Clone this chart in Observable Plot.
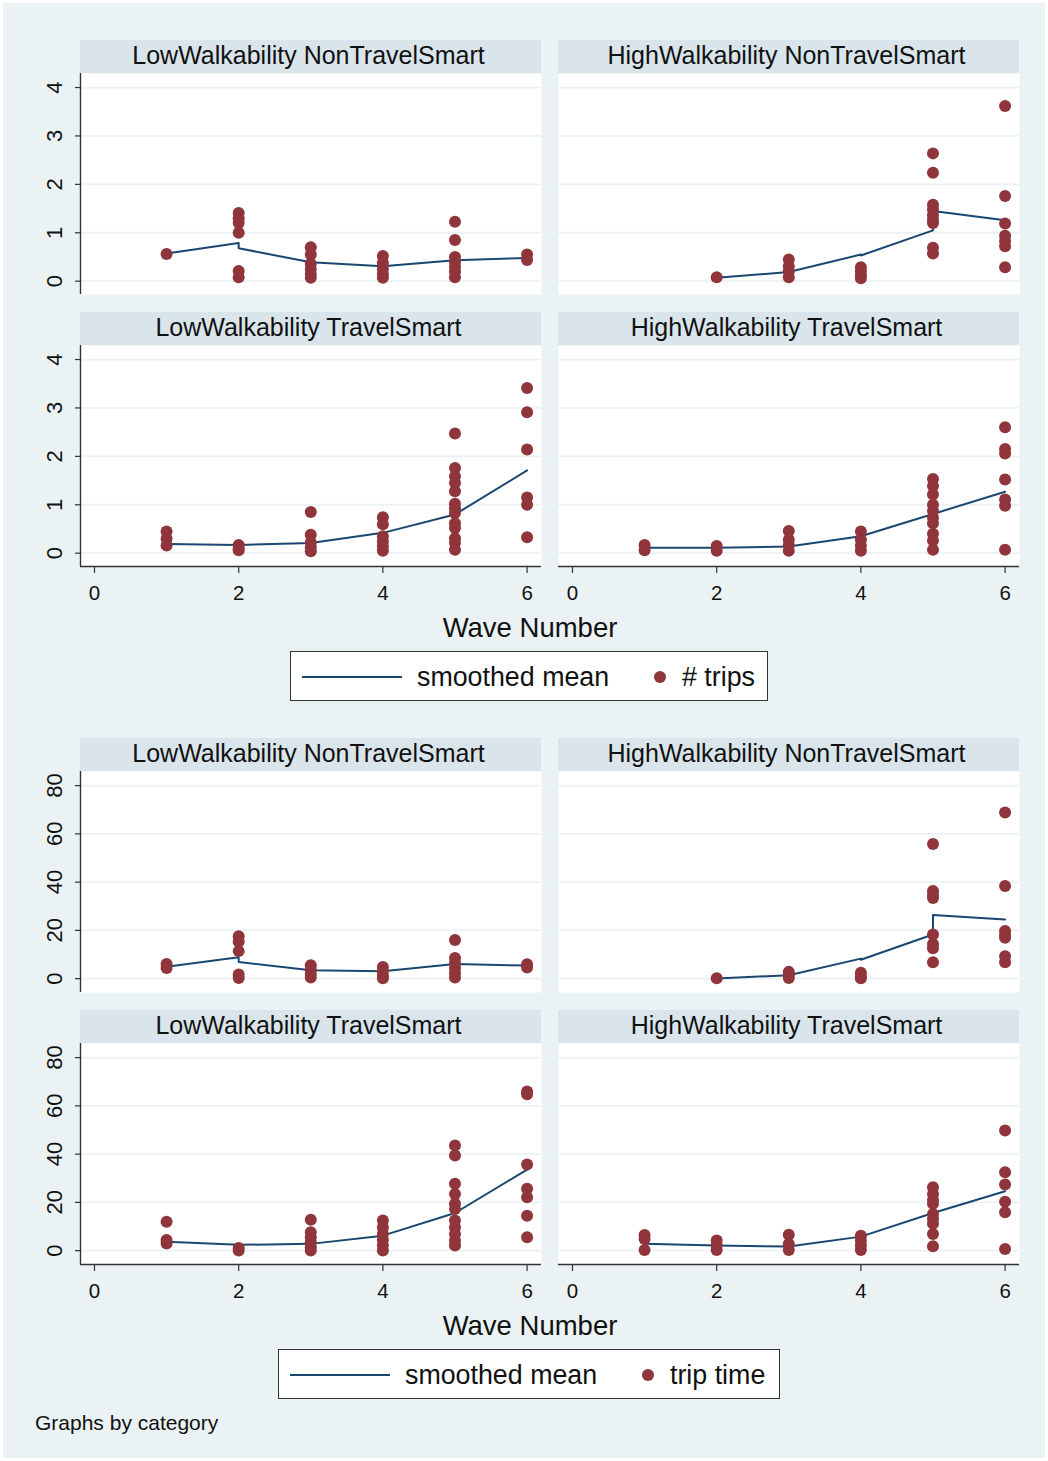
<!DOCTYPE html>
<html>
<head>
<meta charset="utf-8">
<script src="https://cdn.jsdelivr.net/npm/d3@7"></script>
<script src="https://cdn.jsdelivr.net/npm/@observablehq/plot@0.6"></script>
<style>
  body { margin: 0; background: #fff; }
  #page { position: relative; width: 1048px; height: 1461px; background: #fff; overflow: hidden;
          font-family: "Liberation Sans", Arial, Helvetica, sans-serif; color: #111; }
  #bg { position: absolute; left: 3px; top: 3px; right: 3px; bottom: 3px; background: #eaf2f3; }
  .strip { position: absolute; height: 33px; background: #d9e5eb; font-size: 25px; box-sizing: border-box;
           padding-bottom: 3px; padding-right: 4px;
           display: flex; align-items: center; justify-content: center; white-space: nowrap; }
  .xtitle { position: absolute; font-size: 27.5px; line-height: 27px; white-space: nowrap; transform: translateX(-50%); }
  .legend { position: absolute; background: #fff; border: 1px solid #333; box-sizing: border-box; }
  .legend span { position: absolute; font-size: 26.8px; line-height: 26px; white-space: nowrap; }
  .legend svg { position: absolute; left: 0; top: 0; }
  .note { position: absolute; font-size: 21px; line-height: 21px; white-space: nowrap; }
  .panel { position: absolute; }
</style>
</head>
<body>
<div id="page"><div id="bg"></div></div>
<script>
// ---------------- DATA ----------------
const panelTitles = ["LowWalkability NonTravelSmart", "HighWalkability NonTravelSmart",
                     "LowWalkability TravelSmart", "HighWalkability TravelSmart"];
const xTicks = [0, 2, 4, 6];
const tripsTicks = [0, 1, 2, 3, 4];
const timeTicks = [0, 20, 40, 60, 80];
const xTitle = "Wave Number";
const legendLine = "smoothed mean";
const legendTrips = "# trips";
const legendTime = "trip time";
const noteText = "Graphs by category";

// # trips : [wave, value]
const tripsLowNon = [[1,0.56],
  [2,1.41],[2,1.3],[2,1.2],[2,1.0],[2,0.21],[2,0.08],
  [3,0.70],[3,0.55],[3,0.36],[3,0.25],[3,0.15],[3,0.07],
  [4,0.52],[4,0.38],[4,0.25],[4,0.15],[4,0.07],
  [5,1.23],[5,0.85],[5,0.5],[5,0.4],[5,0.3],[5,0.2],[5,0.08],
  [6,0.55],[6,0.44]];
const tripsLowNonMean = [[1,0.57],[2,0.79],[2,0.68],[3,0.39],[4,0.31],[5,0.43],[6,0.48]];

const tripsHighNon = [[2,0.08],
  [3,0.45],[3,0.31],[3,0.2],[3,0.08],
  [4,0.29],[4,0.2],[4,0.12],[4,0.06],
  [5,2.64],[5,2.24],[5,1.58],[5,1.48],[5,1.36],[5,1.27],[5,1.2],[5,0.69],[5,0.57],
  [6,3.62],[6,1.76],[6,1.19],[6,0.94],[6,0.83],[6,0.72],[6,0.29]];
const tripsHighNonMean = [[2,0.07],[3,0.19],[4,0.55],[4,0.53],[5,1.05],[5,1.45],[6,1.26]];

const tripsLowTS = [[1,0.45],[1,0.3],[1,0.16],
  [2,0.17],[2,0.1],[2,0.06],
  [3,0.85],[3,0.38],[3,0.22],[3,0.12],[3,0.04],
  [4,0.74],[4,0.6],[4,0.35],[4,0.24],[4,0.14],[4,0.05],
  [5,2.47],[5,1.76],[5,1.59],[5,1.45],[5,1.28],[5,1.02],[5,0.93],[5,0.83],[5,0.62],[5,0.52],[5,0.31],[5,0.21],[5,0.07],
  [6,3.41],[6,2.91],[6,2.14],[6,1.15],[6,1.0],[6,0.33]];
const tripsLowTSMean = [[1,0.19],[2,0.17],[3,0.21],[4,0.42],[5,0.8],[6,1.71]];

const tripsHighTS = [[1,0.17],[1,0.06],
  [2,0.15],[2,0.05],
  [3,0.46],[3,0.28],[3,0.17],[3,0.05],
  [4,0.45],[4,0.28],[4,0.16],[4,0.05],
  [5,1.53],[5,1.39],[5,1.21],[5,1.0],[5,0.87],[5,0.73],[5,0.62],[5,0.4],[5,0.26],[5,0.07],
  [6,2.6],[6,2.15],[6,2.06],[6,1.52],[6,1.11],[6,0.98],[6,0.07]];
const tripsHighTSMean = [[1,0.11],[2,0.11],[3,0.14],[4,0.35],[5,0.81],[6,1.27]];

// trip time : [wave, value]
const timeLowNon = [[1,6.1],[1,4.4],
  [2,17.6],[2,15.3],[2,11.4],[2,1.7],[2,0.3],
  [3,5.5],[3,3.7],[3,1.9],[3,0.5],
  [4,4.8],[4,3.1],[4,1.2],[4,0.2],
  [5,16],[5,8.6],[5,6.5],[5,4.4],[5,2.4],[5,0.5],
  [6,6.0],[6,4.6]];
const timeLowNonMean = [[1,4.9],[2,8.9],[2,6.9],[3,3.5],[4,3.1],[5,6.1],[6,5.4]];

const timeHighNon = [[2,0.2],
  [3,2.8],[3,1.4],[3,0.3],
  [4,2.4],[4,1.0],[4,0.2],
  [5,55.8],[5,36.3],[5,34.7],[5,33.4],[5,18.3],[5,14.4],[5,12.6],[5,6.8],
  [6,68.9],[6,38.4],[6,19.7],[6,18.1],[6,16.9],[6,9.3],[6,6.8]];
const timeHighNonMean = [[2,0.1],[3,1.4],[4,8.3],[4,7.8],[5,18.3],[5,26.4],[6,24.5]];

const timeLowTS = [[1,12.0],[1,4.4],[1,3.0],
  [2,1.1],[2,0.1],
  [3,12.8],[3,7.6],[3,5.5],[3,3.5],[3,1.4],[3,0.1],
  [4,12.5],[4,9.7],[4,6.9],[4,4.4],[4,2.1],[4,0.1],
  [5,43.6],[5,39.4],[5,27.7],[5,23.5],[5,19.4],[5,17.3],[5,12.5],[5,9.7],[5,6.9],[5,4.2],[5,2.1],
  [6,66.0],[6,64.8],[6,35.7],[6,25.6],[6,22.1],[6,14.5],[6,5.5]];
const timeLowTSMean = [[1,3.7],[2,2.4],[3,2.8],[4,6.2],[5,15.6],[6,33.6]];

const timeHighTS = [[1,6.5],[1,4.8],[1,0.3],
  [2,4.2],[2,2.1],[2,0.3],
  [3,6.6],[3,2.8],[3,0.3],
  [4,6.2],[4,4.2],[4,2.1],[4,0.3],
  [5,26.3],[5,23.5],[5,21.0],[5,19.4],[5,15.2],[5,13.1],[5,11.1],[5,6.9],[5,1.8],
  [6,49.8],[6,32.5],[6,27.4],[6,20.3],[6,15.9],[6,0.7]];
const timeHighTSMean = [[1,2.8],[2,2.1],[3,1.7],[4,5.8],[5,15.6],[6,24.6]];

// ---------------- STYLE / LAYOUT ----------------
const C = { dot: "#90353b", line: "#1a476f", grid: "#eaf2f3", axis: "#333", text: "#111" };
const xDomain = [-0.194, 6.2];
const tripsDomain = [-0.275, 4.29];
const timeDomain = [-5.75, 85.85];
const cols = [{ x: 80, w: 461 }, { x: 558, w: 461 }];
const plotH = 221;

const page = document.getElementById("page");
function div(cls, css, text) {
  const d = document.createElement("div");
  d.className = cls;
  Object.assign(d.style, css);
  if (text != null) d.textContent = text;
  page.appendChild(d);
  return d;
}

function panel({ pts, mean, yDomain, yTicks, col, row, top }) {
  const left = col === 0, bottom = row === 1;
  const mL = left ? 50 : 0, mB = bottom ? 45 : 0;
  const c = cols[col];
  const marks = [
    Plot.frame({ fill: "white", stroke: "none" }),
    Plot.gridY(yTicks, { stroke: C.grid, strokeOpacity: 1, strokeWidth: 1.8 }),
    Plot.line(mean, { x: d => d[0], y: d => d[1], stroke: C.line, strokeWidth: 2 }),
    Plot.dot(pts, { x: d => d[0], y: d => d[1], r: 6, fill: C.dot, stroke: "none" })
  ];
  if (left) {
    marks.push(
      Plot.ruleX([xDomain[0]], { stroke: C.axis, strokeWidth: 1.4 }),
      Plot.axisY(yTicks, { tickSize: 5, tickFormat: () => "", stroke: C.axis, strokeWidth: 1.2 }),
      Plot.text(yTicks, { y: d => d, text: d => String(d), frameAnchor: "left", dx: -26, rotate: -90,
                          textAnchor: "middle", lineAnchor: "middle", fontSize: 22, fill: C.text })
    );
  }
  if (bottom) {
    marks.push(
      Plot.ruleY([yDomain[0]], { stroke: C.axis, strokeWidth: 1.4 }),
      Plot.axisX(xTicks, { tickSize: 7, tickPadding: 12, fontSize: 20.5, stroke: C.axis, strokeWidth: 1.2, fill: C.text })
    );
  }
  const svg = Plot.plot({
    width: mL + c.w, height: plotH + mB,
    marginLeft: mL, marginRight: 0, marginTop: 0, marginBottom: mB,
    style: { background: "transparent", overflow: "visible", fontFamily: '"Liberation Sans", Arial, sans-serif' },
    x: { domain: xDomain, axis: bottom ? undefined : null },
    y: { domain: yDomain, axis: left ? undefined : null },
    marks
  });
  svg.classList.add("panel");
  svg.style.position = "absolute";
  svg.style.left = (c.x - mL) + "px";
  svg.style.top = top + "px";
  page.appendChild(svg);
}

function graph({ data, yDomain, yTicks, stripTops, titleTop, legend, legendLabel }) {
  data.forEach(([pts, mean], i) => {
    const col = i % 2, row = Math.floor(i / 2);
    const c = cols[col];
    div("strip", { left: c.x + "px", top: stripTops[row] + "px", width: c.w + "px" }, panelTitles[i]);
    panel({ pts, mean, yDomain, yTicks, col, row, top: stripTops[row] + 33 });
  });
  div("xtitle", { left: "530px", top: titleTop + "px" }, xTitle);
  const lg = div("legend", { left: legend.x + "px", top: legend.y + "px", width: legend.w + "px", height: "50px" });
  const ns = "http://www.w3.org/2000/svg";
  const s = document.createElementNS(ns, "svg");
  s.setAttribute("width", legend.w); s.setAttribute("height", 50);
  const ln = document.createElementNS(ns, "line");
  ln.setAttribute("x1", 11); ln.setAttribute("x2", 111); ln.setAttribute("y1", 25); ln.setAttribute("y2", 25);
  ln.setAttribute("stroke", C.line); ln.setAttribute("stroke-width", 2);
  const dt = document.createElementNS(ns, "circle");
  dt.setAttribute("cx", legend.dotX); dt.setAttribute("cy", 25); dt.setAttribute("r", 6); dt.setAttribute("fill", C.dot);
  s.appendChild(ln); s.appendChild(dt);
  lg.appendChild(s);
  const t1 = document.createElement("span"); t1.textContent = legendLine;
  Object.assign(t1.style, { left: "126px", top: "12px" });
  const t2 = document.createElement("span"); t2.textContent = legendLabel;
  Object.assign(t2.style, { left: (legend.dotX + 22) + "px", top: "12px" });
  lg.appendChild(t1); lg.appendChild(t2);
}

graph({
  data: [[tripsLowNon, tripsLowNonMean], [tripsHighNon, tripsHighNonMean],
         [tripsLowTS, tripsLowTSMean], [tripsHighTS, tripsHighTSMean]],
  yDomain: tripsDomain, yTicks: tripsTicks, stripTops: [40, 312], titleTop: 614,
  legend: { x: 290, y: 651, w: 478, dotX: 369 }, legendLabel: legendTrips
});
graph({
  data: [[timeLowNon, timeLowNonMean], [timeHighNon, timeHighNonMean],
         [timeLowTS, timeLowTSMean], [timeHighTS, timeHighTSMean]],
  yDomain: timeDomain, yTicks: timeTicks, stripTops: [738, 1010], titleTop: 1312,
  legend: { x: 278, y: 1349, w: 502, dotX: 369 }, legendLabel: legendTime
});
div("note", { left: "35px", top: "1412px" }, noteText);
</script>
</body>
</html>
